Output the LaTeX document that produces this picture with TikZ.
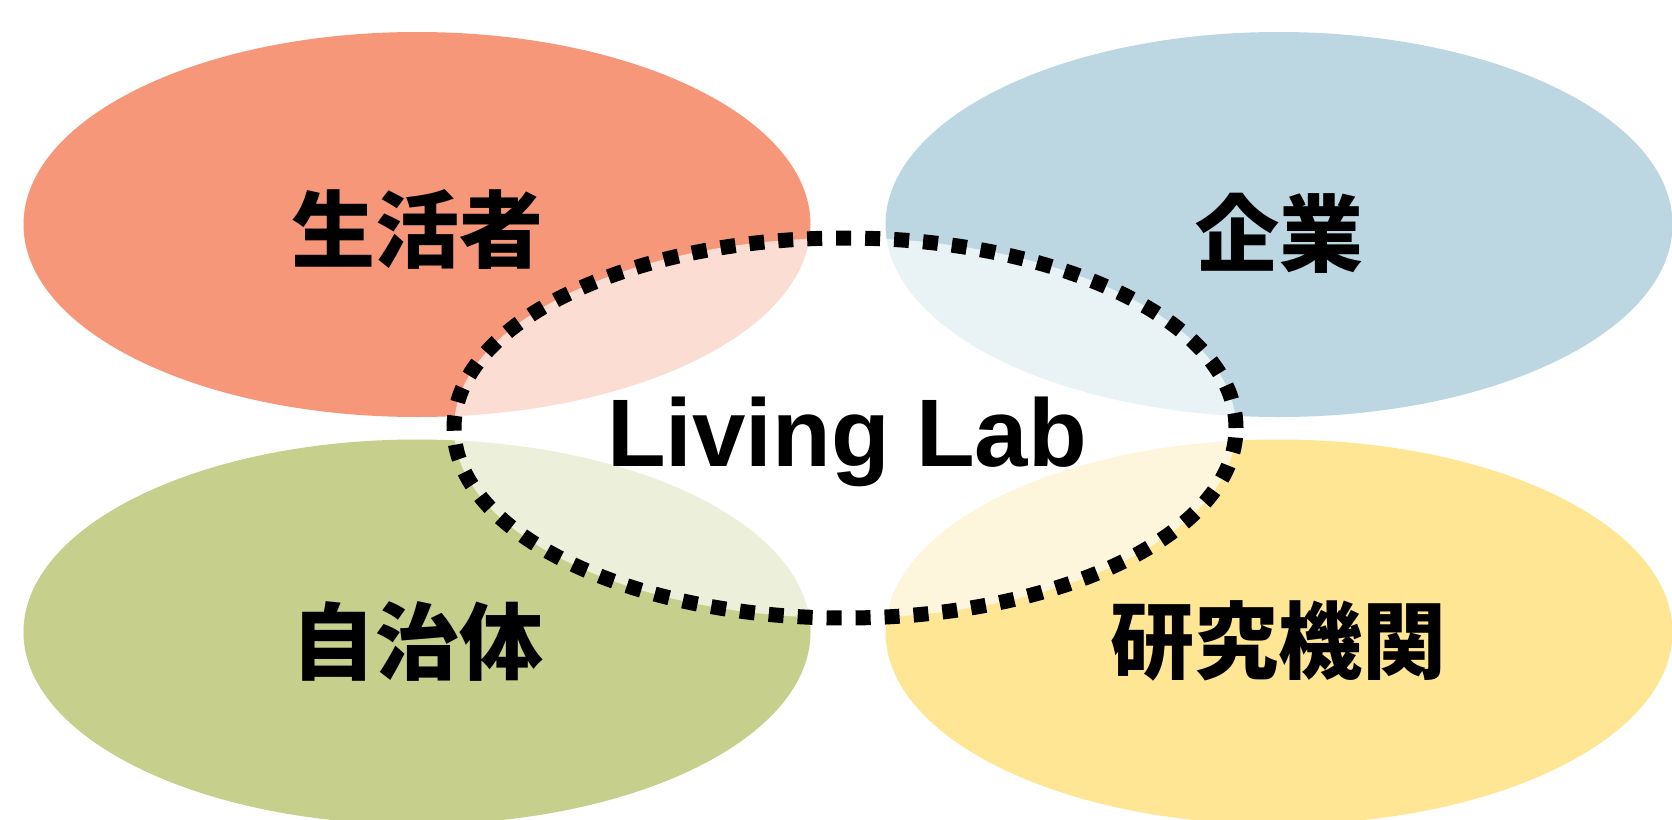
\documentclass[tikz,border=0pt]{standalone}
\usepackage{fontspec}
\setmainfont{Liberation Sans}
\newfontfamily\cjk{Noto Sans CJK JP}
\usetikzlibrary{shapes.geometric}
\definecolor{salmon}{HTML}{F7977A}
\definecolor{bluegrey}{HTML}{BDD7E2}
\definecolor{olive}{HTML}{C7CF8C}
\definecolor{sand}{HTML}{FEE695}
\begin{document}
\begin{tikzpicture}[x=1pt,y=-1pt,
  blob/.style={ellipse, draw=none, inner sep=0pt, minimum width=787pt, minimum height=385pt},
  core/.style={ellipse, inner sep=0pt, minimum width=782pt, minimum height=380pt,
    fill=white, fill opacity=0.68, draw=none},
  dashring/.style={draw=black, line width=15pt, dash pattern=on 15pt off 14pt},
  jlabel/.style={font=\cjk\bfseries\fontsize{84}{100}\selectfont, inner sep=0pt, text=black},
  elabel/.style={font=\bfseries\fontsize{96}{110}\selectfont, inner sep=0pt, text=black}]
\useasboundingbox[fill=white] (0,0) rectangle (1672,819);
\node[blob, fill=salmon]   (life)  at (417,224.5) {};
\node[blob, fill=bluegrey] (corp)  at (1279,224.5) {};
\node[blob, fill=olive]    (gov)   at (417,632) {};
\node[blob, fill=sand]     (res)   at (1279,632) {};
\node[core] (lab) at (845,428) {};
\draw[dashring] (lab.center) ellipse [x radius=391pt, y radius=190pt];
\node[jlabel] (tlife) at (417,230) {生活者};
\node[jlabel] (tcorp) at (1279,233) {企業};
\node[jlabel] (tgov)  at (417,641) {自治体};
\node[jlabel] (tres)  at (1278,641) {研究機関};
\node[elabel, anchor=base] (tlab) at (847,466) {Living Lab};
\end{tikzpicture}
\end{document}
